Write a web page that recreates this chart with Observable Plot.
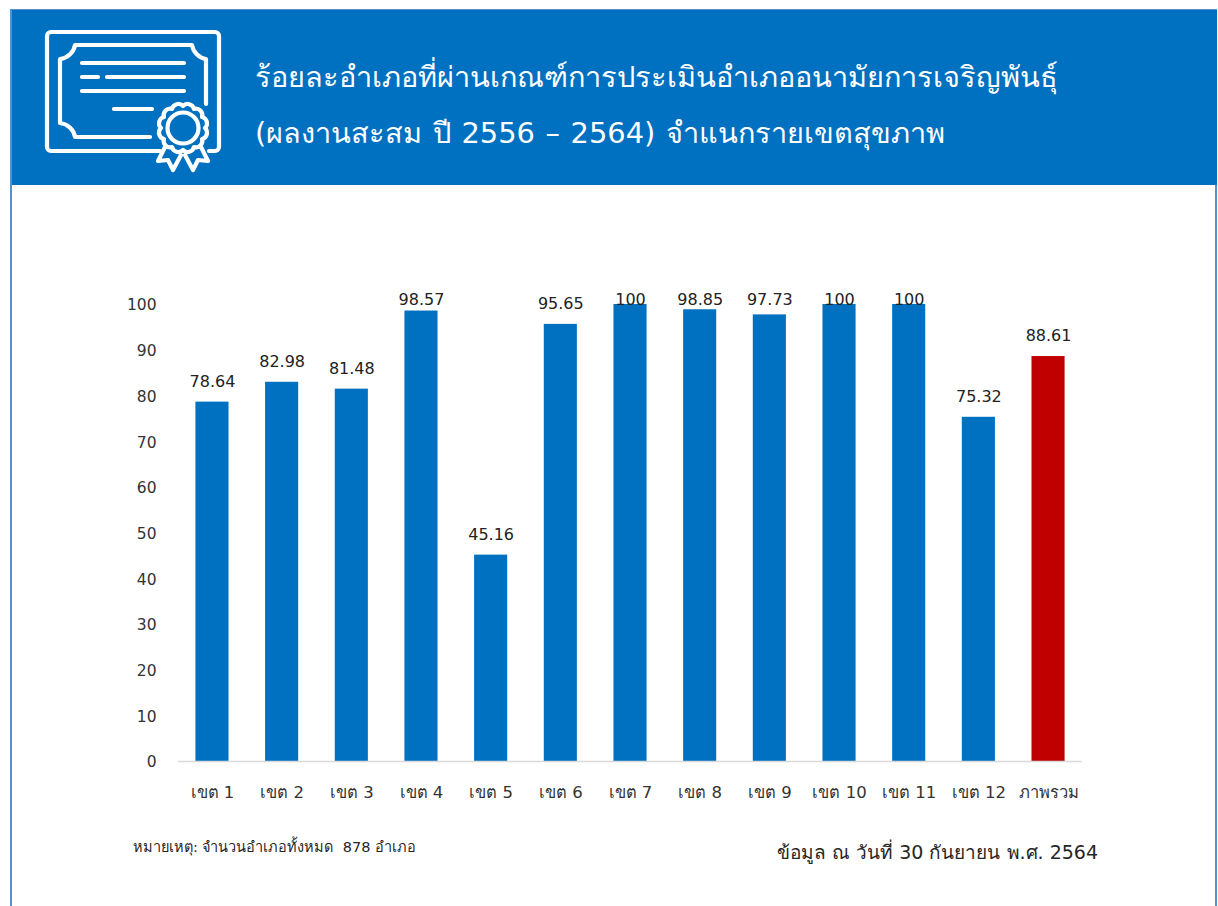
<!DOCTYPE html>
<html lang="th">
<head>
<meta charset="utf-8">
<script src="https://cdn.jsdelivr.net/npm/d3@7"></script>
<script src="https://cdn.jsdelivr.net/npm/@observablehq/plot@0.6"></script>
<style>
  html, body { margin: 0; padding: 0; background: #fff; }
  body { width: 1218px; height: 906px; position: relative; overflow: hidden; font-family: Tahoma, "DejaVu Sans", "Noto Sans", sans-serif; }
  #frame { position: absolute; left: 10px; top: 9px; width: 1207px; height: 897px; box-sizing: border-box; border: 2px solid #5b8fc9; border-bottom: 0; }
  #header { position: absolute; left: 12px; top: 10px; width: 1205px; height: 175px; background: #0070c0; }
  #icon { position: absolute; left: 0; top: 0; }
  .title { position: absolute; left: 255px; color: #fff; font-size: 28.9px; line-height: 40px; white-space: nowrap; }
  #t1 { top: 57px; }
  #t2 { top: 113px; word-spacing: 1.4px; }
  #chart { position: absolute; left: 0; top: 186px; }
  #note { position: absolute; left: 133px; top: 836px; font-size: 14.5px; line-height: 22px; color: #262626; white-space: nowrap; }
  #asof { position: absolute; right: 120px; top: 838px; font-size: 19px; line-height: 28px; color: #262626; white-space: nowrap; }
</style>
</head>
<body>
<div id="frame"></div>
<div id="header"></div>
<svg id="icon" width="240" height="186" viewBox="0 0 240 186" fill="none" stroke="#fff" stroke-width="4.2" stroke-linecap="round" stroke-linejoin="round">
  <path d="M160 151H51a4 4 0 0 1-4-4V36a4 4 0 0 1 4-4h164a4 4 0 0 1 4 4v111a4 4 0 0 1-4 4h-6"/>
  <path d="M150 137H75c-1-7-7-13-15-14V59c8-1 14-7 15-14h117c1 7 7 13 14 14v45"/>
  <path d="M82 63H184M82 77H98M107 77H184M82 91H184M114 109H152"/>
  <path id="rosette"/>
  <circle cx="183" cy="128" r="15.5"/>
  <path d="M165 147L158 161L168 160L173 170L181 155M201 147L208 161L198 160L193 170L185 155"/>
</svg>
<div class="title" id="t1">ร้อยละอำเภอที่ผ่านเกณฑ์การประเมินอำเภออนามัยการเจริญพันธุ์</div>
<div class="title" id="t2">(ผลงานสะสม ปี 2556 – 2564) จำแนกรายเขตสุขภาพ</div>
<div id="chart"></div>
<div id="note">หมายเหตุ: จำนวนอำเภอทั้งหมด&nbsp; 878 อำเภอ</div>
<div id="asof">ข้อมูล ณ วันที่ 30 กันยายน พ.ศ. 2564</div>
<script>
const categories = ["เขต 1","เขต 2","เขต 3","เขต 4","เขต 5","เขต 6","เขต 7","เขต 8","เขต 9","เขต 10","เขต 11","เขต 12","ภาพรวม"];
const values = [78.64,82.98,81.48,98.57,45.16,95.65,100,98.85,97.73,100,100,75.32,88.61];
const barColors = ["#0070c0","#0070c0","#0070c0","#0070c0","#0070c0","#0070c0","#0070c0","#0070c0","#0070c0","#0070c0","#0070c0","#0070c0","#c00000"];
const yTicks = [0,10,20,30,40,50,60,70,80,90,100];
const rows = categories.map((c, i) => ({c, v: values[i], color: barColors[i]}));

// Scalloped edge of the certificate's rosette (decoration only)
const n = 12;
const pts = d3.range(n).map(i => [183 + 22 * Math.cos(i * 2 * Math.PI / n), 128 + 22 * Math.sin(i * 2 * Math.PI / n)]);
document.getElementById("rosette").setAttribute("d",
  "M" + pts[0].join(",") + pts.slice(1).concat([pts[0]]).map(p => `A6.5,6.5 0 0 1 ${p[0]},${p[1]}`).join("") + "Z");

const plot = Plot.plot({
  width: 1218,
  height: 680,
  marginTop: 118,
  marginBottom: 105,
  marginLeft: 178,
  marginRight: 136,
  style: {fontFamily: 'Tahoma, "DejaVu Sans", "Noto Sans", sans-serif', fontSize: "15px", color: "#333", background: "transparent", overflow: "visible"},
  x: {domain: categories, paddingInner: 0.525, paddingOuter: 0.25, round: false, label: null},
  y: {domain: [0, 100], label: null},
  marks: [
    Plot.barY(rows, {x: "c", y: "v", fill: "color"}),
    Plot.ruleY([0], {stroke: "#d9d9d9", strokeWidth: 1.5}),
    // Labels sit above each bar but stop at the top of the chart, as in the reference
    Plot.text(rows, {x: "c", y: d => Math.min(d.v + 4.5, 101), text: d => String(d.v), fontSize: 16, fill: "#222"}),
    Plot.axisX({tickSize: 0, tickPadding: 25, fontSize: 16.5, label: null, fill: "#333"}),
    Plot.axisY({ticks: yTicks, tickSize: 0, tickPadding: 22, fontSize: 15.5, dy: 1, label: null, fill: "#333"})
  ]
});
document.getElementById("chart").appendChild(plot);
</script>
</body>
</html>
